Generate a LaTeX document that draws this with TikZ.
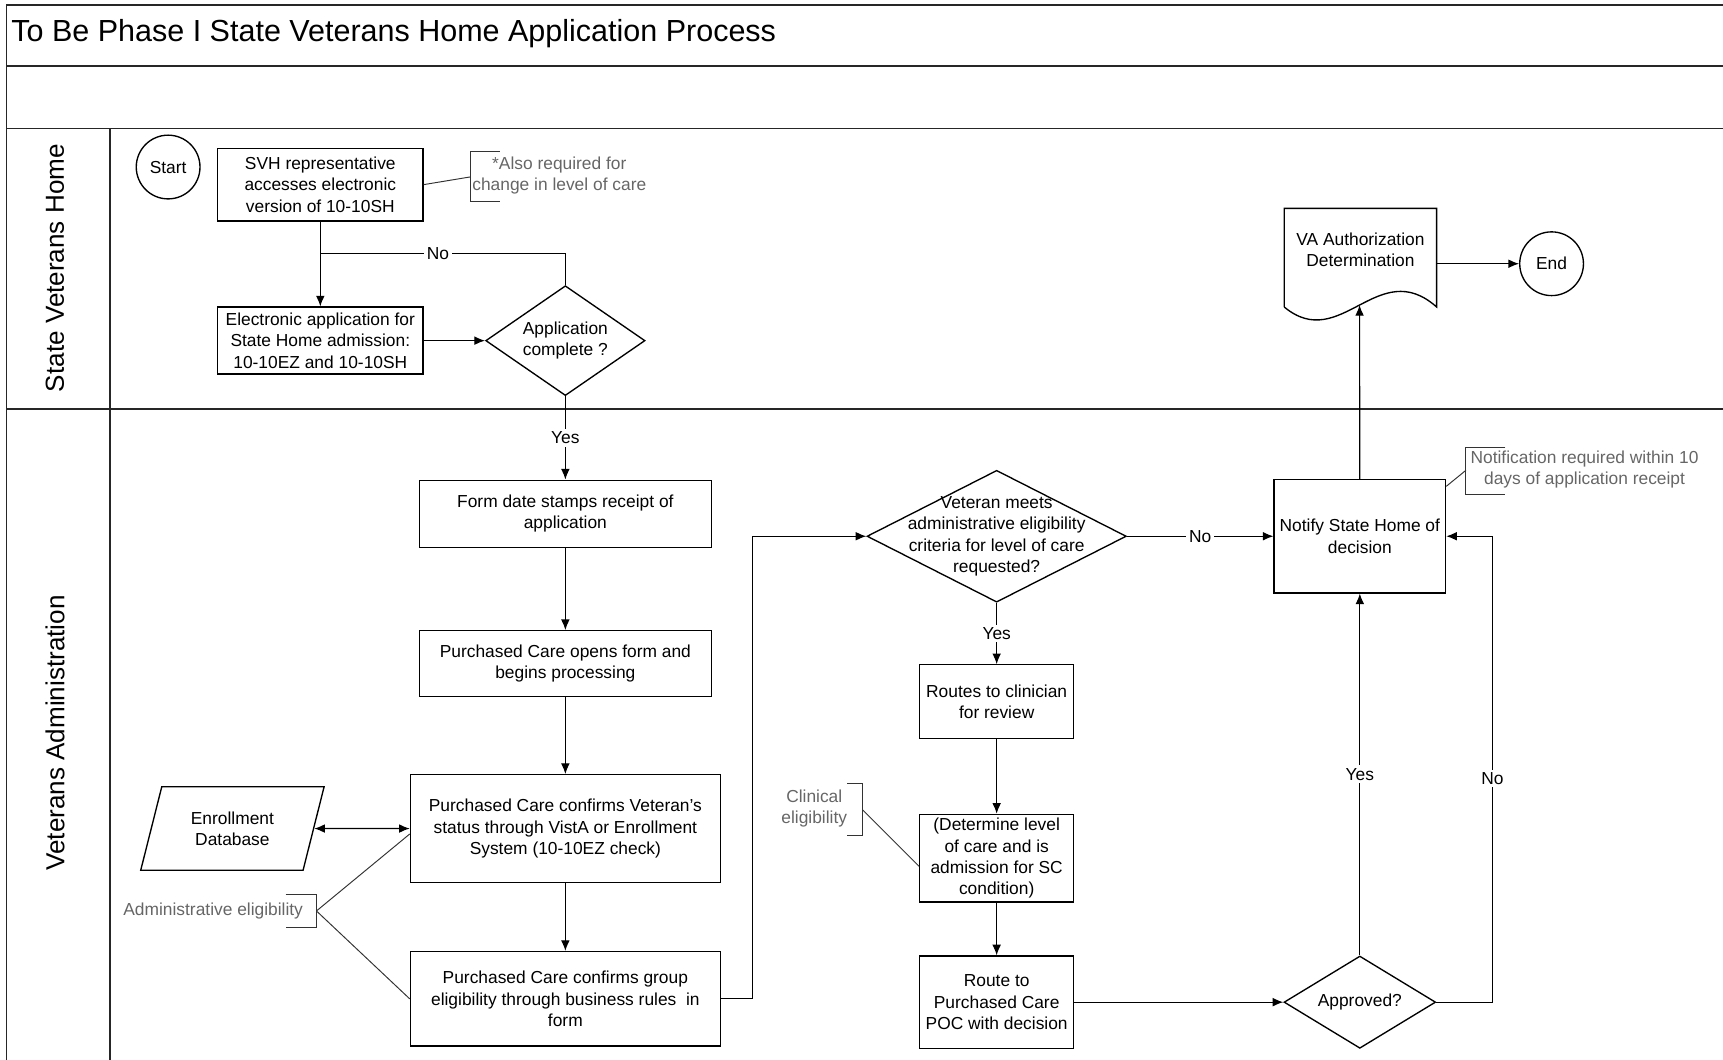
\documentclass[tikz,border=0pt]{standalone}
\usepackage{fontspec}
\setmainfont{Liberation Sans}
\usetikzlibrary{shapes.geometric, arrows.meta}
\newcommand{\pxu}{0.02cm}

\begin{document}
\begin{tikzpicture}[x=\pxu, y=-\pxu,
		every node/.style={align=center, font=\fontsize{9}{11}\selectfont},
		stepbox/.style={draw, line width=0.7pt, inner sep=2pt},
		decide/.style={draw, diamond, line width=0.7pt, inner sep=0pt},
		term/.style={draw, circle, line width=0.7pt, inner sep=0pt, minimum size=58*\pxu},
		flow/.style={line width=0.6pt, -{Latex[length=5.5pt, width=4.5pt]}},
		both/.style={line width=0.6pt, {Latex[length=5.5pt, width=4.5pt]}-{Latex[length=5.5pt, width=4.5pt]}},
		link/.style={line width=0.6pt},
		tag/.style={fill=white, inner sep=1.5pt},
		note/.style={text=black!60},
		notelink/.style={line width=0.5pt, black!80}]
		\useasboundingbox (0,0) rectangle (1568,964);
		% Pool and lanes
		\draw[line width=0.9pt, black!85] (1580,4.5) -- (6,4.5) -- (6,975);
		\draw[line width=0.9pt, black!85] (6,60) -- (1580,60);
		\draw[line width=0.9pt, black!85] (6,117) -- (1580,117);
		\draw[line width=0.9pt, black!85] (6,372) -- (1580,372);
		\draw[line width=0.9pt, black!85] (100,117) -- (100,975);
		\node[anchor=west, inner sep=0pt, font=\fontsize{15.8}{19}\selectfont] (title) at (10,31) {To Be Phase I State Veterans Home Application Process};
		\node[rotate=90, font=\fontsize{13.5}{16}\selectfont] (lanesvh) at (50,244) {State Veterans Home};
		\node[rotate=90, font=\fontsize{13.5}{16}\selectfont] (laneva) at (50,667) {Veterans Administration};

		% State Veterans Home lane
		\node[term] (start) at (153,152) {Start};
		\node[stepbox, minimum width=187*\pxu, minimum height=66*\pxu] (svh) at (291.5,168) {SVH representative\\accesses electronic\\version of 10-10SH};
		\node[stepbox, minimum width=187*\pxu, minimum height=61*\pxu] (elec) at (291.5,310) {Electronic application for\\State Home admission:\\10-10EZ and 10-10SH};
		\node[decide, minimum width=145*\pxu, minimum height=100*\pxu] (appok) at (514.5,310) {};
		\node (appoktext) at (appok) {Application\\complete ?};
		\node[minimum width=138*\pxu, minimum height=89*\pxu, inner sep=0pt] (vadoc) at (1238,234.5) {};
		\node (vadoctext) at (1238,227) {VA Authorization\\Determination};
		\node[term] (endn) at (1412,240) {End};
		\node[note] (alsonote) at (509,160) {*Also required for\\change in level of care};
		\draw[notelink] (455,138) -- (428,138) -- (428,183) -- (455,183);
		\coordinate (alsob) at (428,161);

		% Veterans Administration lane
		\node[stepbox, minimum width=266*\pxu, minimum height=61*\pxu] (stamp) at (514.5,467.5) {Form date stamps receipt of\\application};
		\node[stepbox, minimum width=266*\pxu, minimum height=60*\pxu] (opens) at (514.5,604) {Purchased Care opens form and\\begins processing};
		\node[stepbox, minimum width=282*\pxu, minimum height=98*\pxu] (status) at (514.5,754) {Purchased Care confirms Veteran's\\status through VistA or Enrollment\\System (10-10EZ check)};
		\node[stepbox, minimum width=282*\pxu, minimum height=86*\pxu] (group) at (514.5,909) {Purchased Care confirms group\\eligibility through business rules\ \ in\\form};
		\node[draw, trapezium, trapezium left angle=70, trapezium right angle=110, trapezium stretches=true, line width=0.7pt, inner sep=0pt, minimum width=167*\pxu, minimum height=76*\pxu] (enroll) at (211.5,754) {Enrollment\\Database};
		\node[note] (adminnote) at (194,829) {Administrative eligibility};
		\draw[notelink] (260,814) -- (288,814) -- (288,844) -- (260,844);
		\coordinate (adminb) at (288,829);

		\node[decide, minimum width=236*\pxu, minimum height=120*\pxu] (vetok) at (907,488) {};
		\node (vetoktext) at (vetok) {Veteran meets\\administrative eligibility\\criteria for level of care\\requested?};
		\node[stepbox, minimum width=140*\pxu, minimum height=67*\pxu] (routes) at (907,638.5) {Routes to clinician\\for review};
		\node[stepbox, minimum width=140*\pxu, minimum height=76*\pxu] (level) at (907,781) {(Determine level\\of care and is\\admission for SC\\condition)};
		\node[stepbox, minimum width=140*\pxu, minimum height=84*\pxu] (poc) at (907,912) {Route to\\Purchased Care\\POC with decision};
		\node[note] (clinnote) at (741,736) {Clinical\\eligibility};
		\draw[notelink] (771,713) -- (785,713) -- (785,760) -- (771,760);
		\coordinate (clinb) at (785,737);

		\node[decide, minimum width=138*\pxu, minimum height=84*\pxu] (approved) at (1237.5,912) {};
		\node (approvedtext) at (approved) {Approved?};
		\node[stepbox, minimum width=156*\pxu, minimum height=103*\pxu] (notify) at (1237.5,488) {Notify State Home of\\decision};
		\node[note] (notifnote) at (1442,427) {Notification required within 10\\days of application receipt};
		\draw[notelink] (1370,407) -- (1334,407) -- (1334,450) -- (1370,450);
		\coordinate (notifb) at (1334,428);

		% Document shape
		\draw[line width=0.7pt] (vadoc.south west) -- (vadoc.north west) -- (vadoc.north east) -- (vadoc.south east)
			.. controls (1254,232) and (1220,322) .. (vadoc.south west) coordinate[pos=0.5] (vawave);

		% Connectors
		\coordinate (nojoin) at (291.5,231);
		\draw[flow] (svh) -- (elec);
		\draw[link] (appok.north) |- (nojoin) node[tag, pos=0.76] {No};
		\draw[flow] (elec) -- (appok);
		\draw[flow] (appok) -- (stamp) node[tag, midway] {Yes};
		\draw[flow] (stamp) -- (opens);
		\draw[flow] (opens) -- (status);
		\draw[flow] (status) -- (group);
		\draw[both] (enroll.east) -- (status.west);
		\draw[flow] (group.east) -- ++(29,0) |- (vetok.west);
		\draw[flow] (vetok) -- (notify) node[tag, midway] {No};
		\draw[flow] (vetok) -- (routes) node[tag, midway] {Yes};
		\draw[flow] (routes) -- (level);
		\draw[flow] (level) -- (poc);
		\draw[flow] (poc) -- (approved);
		\draw[flow] (approved) -- (notify) node[tag, midway] {Yes};
		\draw[flow] (approved.east) -- ++(51,0) |- (notify.east) node[tag, pos=0.24] {No};
		\draw[flow] (notify) -- (vawave);
		\draw[flow] (vadoc.east |- endn.west) -- (endn.west);

		% Annotation leaders
		\draw[notelink] (svh.east) -- (alsob);
		\draw[notelink] (adminb) -- (status.182);
		\draw[notelink] (adminb) -- (group.west);
		\draw[notelink] (clinb) -- (level.186);
		\draw[notelink] (notify.30) -- (notifb);
	\end{tikzpicture}
\end{document}
